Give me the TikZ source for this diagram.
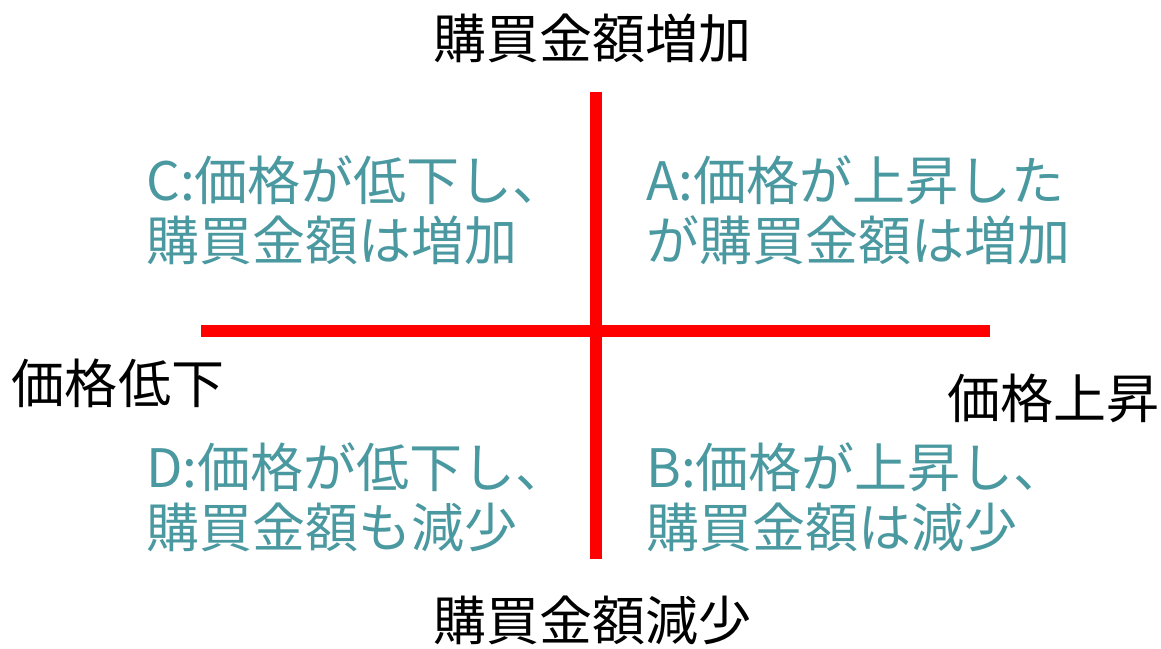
\documentclass[tikz,border=0pt]{standalone}
\usepackage{fontspec}
\setmainfont{Noto Sans CJK JP}
\usepackage{tikz}
\usetikzlibrary{positioning}
\definecolor{quadteal}{RGB}{74,152,160}
\definecolor{axisred}{RGB}{255,0,0}
\tikzset{
	axislabel/.style={font=\fontsize{53}{60}\selectfont, text=black, inner sep=0pt},
	quadtext/.style={font=\fontsize{53}{60}\selectfont, text=quadteal, align=left, anchor=west, inner sep=0pt},
	axisline/.style={color=axisred, line width=11.5pt}
}

\begin{document}
\begin{tikzpicture}[x=1pt, y=-1pt]
				\useasboundingbox (0,0) rectangle (1161,648);
				\coordinate (top) at (596,92);
				\coordinate (bottom) at (596,559);
				\coordinate (left) at (201,331);
				\coordinate (right) at (990,331);
				\draw[axisline] (top) -- (bottom);
				\draw[axisline] (left) -- (right);
				\node[axislabel] (up) at (592,38) {購買金額増加};
				\node[axislabel] (down) at (592,620) {購買金額減少};
				\node[axislabel] (low) at (118,383) {価格低下};
				\node[axislabel] (high) at (1053,398) {価格上昇};
				\node[quadtext] (qa) at (646,210) {A:価格が上昇した\\が購買金額は増加};
				\node[quadtext] (qb) at (646,497) {B:価格が上昇し、\\購買金額は減少};
				\node[quadtext] (qc) at (146,210) {C:価格が低下し、\\購買金額は増加};
				\node[quadtext] (qd) at (146,497) {D:価格が低下し、\\購買金額も減少};
			\end{tikzpicture}
\end{document}
